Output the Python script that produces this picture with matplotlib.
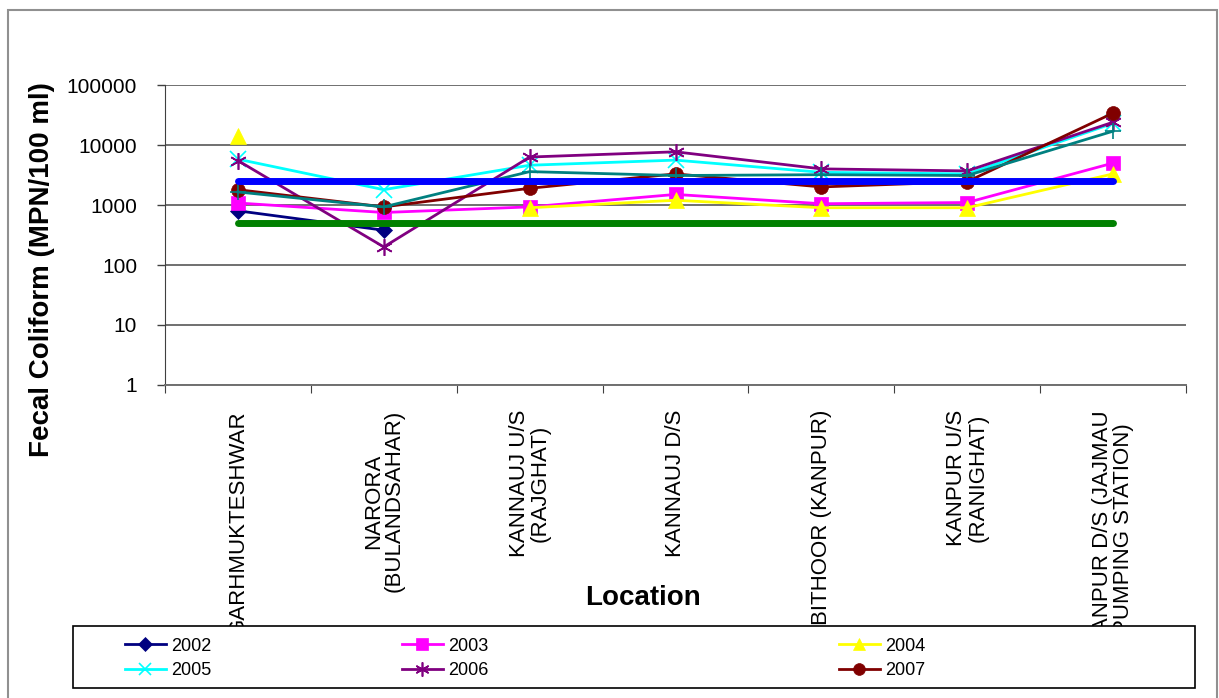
import numpy as np
import matplotlib
matplotlib.use("Agg")
import matplotlib.pyplot as plt
from matplotlib.patches import Rectangle
from matplotlib.ticker import FixedLocator, FuncFormatter, NullLocator

plt.rcParams['font.family'] = ['Liberation Sans', 'DejaVu Sans']

nan = np.nan
locations = ["GARHMUKTESHWAR", "NARORA\n(BULANDSAHAR)", "KANNAUJ U/S\n(RAJGHAT)",
             "KANNAUJ D/S", "BITHOOR (KANPUR)", "KANPUR U/S\n(RANIGHAT)",
             "KANPUR D/S (JAJMAU\nPUMPING STATION)"]
fc_2002 = [800, 380, nan, nan, nan, nan, nan]
fc_2003 = [1080, 750, 930, 1500, 1050, 1100, 5000]
fc_2004 = [14000, nan, 900, 1200, 900, 900, 3300]
fc_2005 = [5800, 1800, 4600, 5600, 3500, 3300, 23000]
fc_2006 = [5500, 200, 6300, 7700, 4000, 3700, 24000]
fc_2007 = [1800, 930, 1900, 3300, 2000, 2450, 34000]
fc_other = [1650, 930, 3600, 3100, 3200, 3100, 17000]
limit_high = [2500, 2500, 2500, 2500, 2500, 2500, 2500]
limit_low = [500, 500, 500, 500, 500, 500, 500]
yticks = [1, 10, 100, 1000, 10000, 100000]

W, H = 1219, 698
fig = plt.figure(figsize=(W / 100, H / 100), dpi=100)
ax = fig.add_axes([165 / W, 1 - 385 / H, (1186 - 165) / W, 300 / H])

x = np.arange(len(locations))
series = [
    ("2002", fc_2002, "#000080", "D", 8),
    ("2003", fc_2003, "#FF00FF", "s", 10),
    ("2004", fc_2004, "#FFFF00", "^", 11),
    ("2005", fc_2005, "#00FFFF", "x", 11),
    ("2006", fc_2006, "#800080", (6, 2, 0), 12),
    ("2007", fc_2007, "#800000", "o", 10),
]
handles = []
for name, vals, col, mk, ms in series:
    thin = mk in ("x", "+") or isinstance(mk, tuple)
    h, = ax.plot(x, vals, color=col, marker=mk, markersize=ms, lw=2.0,
                 markeredgewidth=1.2 if thin else 0.5,
                 markeredgecolor=col, label=name)
    handles.append(h)
ax.plot(x, fc_other, color="#008080", marker="+", markersize=12, markeredgewidth=1.2, lw=2.0)
ax.plot(x, limit_high, color="#0000FF", lw=5, solid_capstyle="round")
ax.plot(x, limit_low, color="#008000", lw=5, solid_capstyle="round")

ax.set_yscale("log")
ax.set_ylim(1, 100000)
ax.set_xlim(-0.5, len(locations) - 0.5)
ax.yaxis.set_major_locator(FixedLocator(yticks))
ax.yaxis.set_minor_locator(NullLocator())
ax.yaxis.set_major_formatter(FuncFormatter(lambda v, p: f"{int(round(v))}"))
ax.grid(axis="y", color="#707070", lw=1.4)
ax.set_axisbelow(True)
for s in ("top", "right"):
    ax.spines[s].set_visible(False)
ax.spines["left"].set_color("#404040")
ax.spines["bottom"].set_color("#707070")
ax.spines["bottom"].set_linewidth(1.4)
ax.tick_params(axis="y", direction="out", length=6, width=1, color="#404040",
               labelsize=15, pad=14)

ax.set_xticks(np.arange(len(locations) + 1) - 0.5)
ax.set_xticklabels([])
ax.set_xticks(x, minor=True)
ax.set_xticklabels(locations, minor=True, rotation=90, va="top", ha="center",
                   multialignment="center", fontsize=16, linespacing=1.0)
ax.tick_params(axis="x", which="major", direction="out", length=6, color="#404040")
ax.tick_params(axis="x", which="minor", length=0, pad=18)

fig.text(42 / W, 1 - 270 / H, "Fecal Coliform (MPN/100 ml)", rotation=90,
         fontsize=20, fontweight="bold", ha="center", va="center")
fig.text(643 / W, 1 - 598 / H, "Location", fontsize=20, fontweight="bold",
         ha="center", va="center")

# outer frame
fig.patches.append(Rectangle((8 / W, -0.05), (1217 - 8) / W, 1.05 - 10 / H,
                             transform=fig.transFigure, fill=False,
                             edgecolor="#909090", lw=1.5, zorder=1))
# legend box
fig.patches.append(Rectangle((73 / W, 1 - 688 / H), (1195 - 73) / W, (688 - 626) / H,
                             transform=fig.transFigure, facecolor="white",
                             edgecolor="black", lw=1.2, zorder=5))
legfont = {"family": ["Liberation Sans Narrow", "Liberation Sans"], "size": 13}
cols = [(handles[0], handles[3]), (handles[1], handles[4]), (handles[2], handles[5])]
col_x = [112, 389, 826]
for (h1, h2), cx in zip(cols, col_x):
    lg = fig.legend([h1, h2], [h1.get_label(), h2.get_label()],
                    loc="upper left", bbox_to_anchor=(cx / W, 1 - 625 / H),
                    frameon=False, prop=legfont, handlelength=2.3,
                    handletextpad=0.25, labelspacing=0.4, borderpad=0.2,
                    markerscale=0.85)
    lg.set_zorder(6)

fig.savefig("out.png", dpi=100, facecolor="white")
